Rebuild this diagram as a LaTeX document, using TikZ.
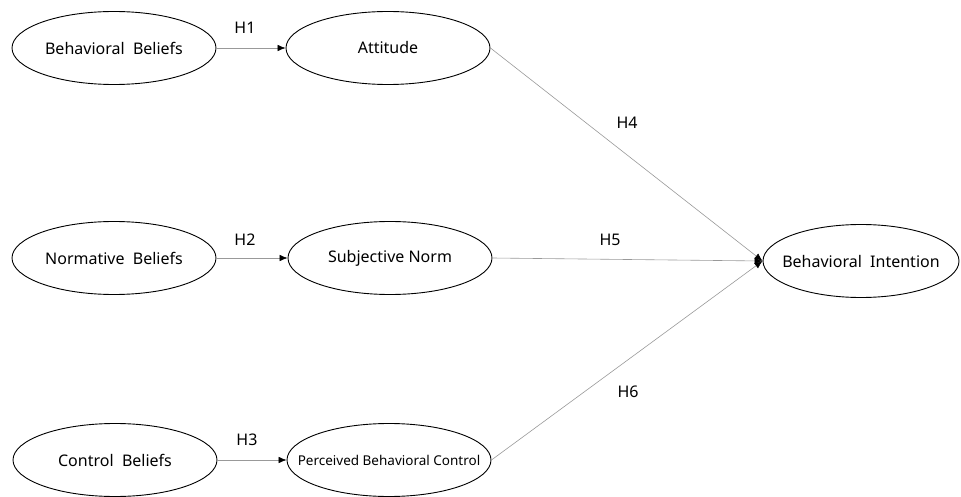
\documentclass[tikz,border=0pt]{standalone}
\usepackage{fontspec}
\setmainfont{Noto Sans}
\usetikzlibrary{arrows.meta,shapes.geometric}

\begin{document}
\begin{tikzpicture}[x=1pt,y=-1pt,
    construct/.style={draw=black, line width=0.9pt, ellipse, inner sep=0pt,
        minimum width=204pt, minimum height=73pt, font=\fontsize{16}{18}\selectfont},
    path/.style={draw=gray!80, line width=0.6pt,
        -{Latex[length=8pt,width=6.5pt,color=black]}},
    hyp/.style={font=\fontsize{16}{18}\selectfont}]
    \useasboundingbox (0,0) rectangle (961,497);

    % beliefs
    \node[construct] (bb) at (114,48) {Behavioral\ \ Beliefs};
    \node[construct] (nb) at (114,258) {Normative\ \ Beliefs};
    \node[construct] (cb) at (115,460) {Control\ \ Beliefs};

    % attitudes
    \node[construct] (att) at (388,48) {Attitude};
    \node[construct] (sn) at (390,258) {Subjective Norm};
    \node[construct, inner xsep=-40pt, font=\fontsize{13.5}{15}\selectfont] (pbc)
        at (389,460) {Perceived Behavioral Control};

    % intention
    \node[construct, inner xsep=-30pt, minimum width=196pt] (bi) at (861,261)
        {Behavioral\ \ Intention};

    % hypotheses
    \draw[path] (bb) -- (att);
    \draw[path] (nb) -- (sn);
    \draw[path] (cb) -- (pbc);
    \draw[path] (att.east) -- (bi.west);
    \draw[path] (sn.east) -- (bi.west);
    \draw[path] (pbc.east) -- (bi.west);

    \node[hyp] (h1) at (245,28) {H1};
    \node[hyp] (h2) at (245,240) {H2};
    \node[hyp] (h3) at (247,440) {H3};
    \node[hyp] (h4) at (627,123) {H4};
    \node[hyp] (h5) at (610,240) {H5};
    \node[hyp] (h6) at (628,392) {H6};
\end{tikzpicture}
\end{document}
